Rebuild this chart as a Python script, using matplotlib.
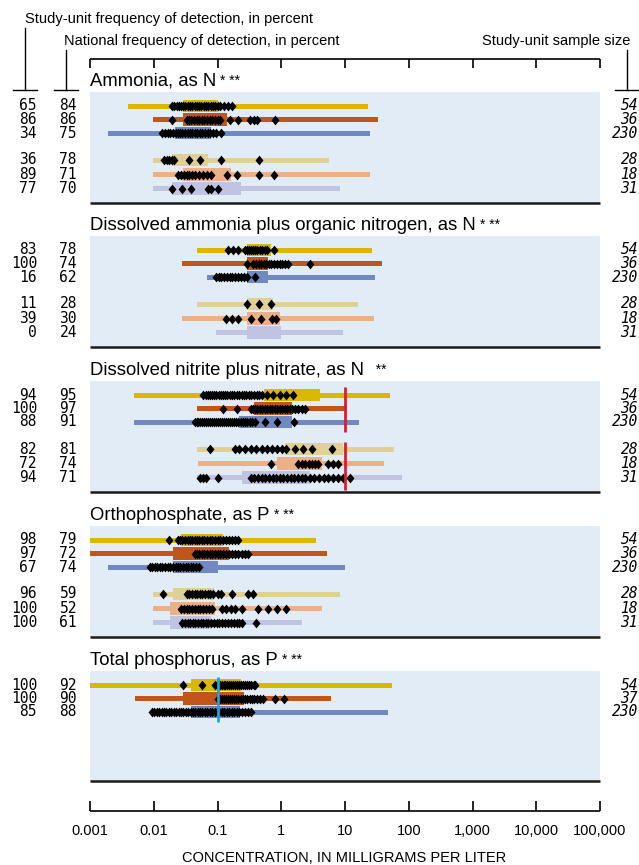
import matplotlib
matplotlib.use("Agg")
import matplotlib.pyplot as plt

W, H = 639, 865

decades = [0.001, 0.01, 0.1, 1, 10, 100, 1000, 10000, 100000]
decade_labels = ["0.001", "0.01", "0.1", "1", "10", "100", "1,000", "10,000", "100,000"]

titles = ["Ammonia, as N", "Dissolved ammonia plus organic nitrogen, as N",
          "Dissolved nitrite plus nitrate, as N", "Orthophosphate, as P",
          "Total phosphorus, as P"]
stars = ["* **", "* **", "  **", "* **", "* **"]

study_freq = [[65, 86, 34, 36, 89, 77],
              [83, 100, 16, 11, 39, 0],
              [94, 100, 88, 82, 72, 94],
              [98, 97, 67, 96, 100, 100],
              [100, 100, 85]]
national_freq = [[84, 86, 75, 78, 71, 70],
                 [78, 74, 62, 28, 30, 24],
                 [95, 97, 91, 81, 74, 71],
                 [79, 72, 74, 59, 52, 61],
                 [92, 90, 88]]
sample_size = [[54, 36, 230, 28, 18, 31],
               [54, 36, 230, 28, 18, 31],
               [54, 36, 230, 28, 18, 31],
               [54, 36, 230, 28, 18, 31],
               [54, 37, 230]]

# national range (thin bar) and 25th-75th percentile (thick bar), mg/L
whisker_lo = [[0.0039, 0.0097, 0.0019, 0.0097, 0.0097, 0.0097],
              [0.048, 0.028, 0.068, 0.048, 0.028, 0.095],
              [0.0049, 0.048, 0.0049, 0.048, 0.05, 0.048],
              [0.001, 0.001, 0.0019, 0.0098, 0.0098, 0.0098],
              [0.001, 0.005, 0.0095]]
whisker_hi = [[23, 33, 25, 5.6, 25, 8.4],
              [27, 38, 30, 15.8, 28, 9.4],
              [51, 10.9, 16.6, 59, 41, 78],
              [3.5, 5.2, 10, 8.4, 4.3, 2.1],
              [55, 6.0, 47]]
box_lo = [[0.029, 0.029, 0.0215, 0.0196, 0.029, 0.0196],
          [0.29, 0.29, 0.29, 0.29, 0.29, 0.29],
          [0.54, 0.37, 0.22, 1.15, 0.87, 0.245],
          [0.027, 0.0198, 0.0198, 0.0198, 0.018, 0.018],
          [0.039, 0.029, 0.039]]
box_hi = [[0.10, 0.139, 0.08, 0.072, 0.162, 0.23],
          [0.68, 0.63, 0.62, 0.75, 0.97, 1.0],
          [4.1, 1.49, 1.49, 9.4, 4.4, 2.8],
          [0.124, 0.153, 0.1, 0.089, 0.09, 0.078],
          [0.23, 0.26, 0.225]]

# study-unit detections, mg/L
ammonia_pts = [
    [0.019, 0.021, 0.023, 0.025, 0.027, 0.029, 0.031, 0.034, 0.037, 0.04, 0.044,
     0.048, 0.052, 0.056, 0.061, 0.066, 0.072, 0.078, 0.085, 0.092, 0.1, 0.11,
     0.125, 0.145, 0.167],
    [0.0195, 0.033, 0.036, 0.039, 0.043, 0.047, 0.052, 0.057, 0.062, 0.068, 0.075,
     0.083, 0.092, 0.1, 0.11, 0.155, 0.21, 0.32, 0.37, 0.41, 0.81],
    [0.0136, 0.015, 0.0165, 0.018, 0.02, 0.022, 0.024, 0.026, 0.028, 0.031, 0.034,
     0.037, 0.04, 0.044, 0.048, 0.053, 0.058, 0.064, 0.07, 0.077, 0.085, 0.094, 0.114],
    [0.0145, 0.016, 0.0175, 0.019, 0.021, 0.036, 0.054, 0.114, 0.45],
    [0.024, 0.027, 0.03, 0.033, 0.036, 0.04, 0.045, 0.052, 0.06, 0.068, 0.078,
     0.14, 0.2, 0.44, 0.77],
    [0.0195, 0.028, 0.039, 0.07, 0.08, 0.1],
]
organic_pts = [
    [0.148, 0.175, 0.21, 0.27, 0.29, 0.31, 0.33, 0.36, 0.39, 0.42, 0.46, 0.5,
     0.55, 0.6, 0.77],
    [0.29, 0.36, 0.4, 0.44, 0.48, 0.53, 0.58, 0.64, 0.7, 0.77, 0.85, 0.94, 1.04,
     1.15, 1.27, 2.8],
    [0.095, 0.105, 0.115, 0.125, 0.14, 0.155, 0.17, 0.19, 0.21, 0.235, 0.26,
     0.29, 0.385],
    [0.29, 0.44, 0.70],
    [0.134, 0.171, 0.212, 0.33, 0.48, 0.71, 0.82],
    [],
]
nitrate_pts = [
    [0.06, 0.065, 0.07, 0.076, 0.082, 0.089, 0.096, 0.104, 0.113, 0.122, 0.132,
     0.143, 0.155, 0.168, 0.182, 0.2, 0.22, 0.24, 0.26, 0.28, 0.31, 0.34, 0.37,
     0.41, 0.45, 0.49, 0.6, 0.75, 0.95, 1.2, 1.55],
    [0.12, 0.2, 0.33, 0.36, 0.39, 0.42, 0.46, 0.5, 0.55, 0.6, 0.66, 0.72, 0.79,
     0.86, 0.94, 1.03, 1.13, 1.24, 1.36, 1.5, 1.65, 1.85, 2.1, 2.4],
    [0.044, 0.047, 0.05, 0.054, 0.058, 0.062, 0.066, 0.071, 0.076, 0.082, 0.088,
     0.094, 0.1, 0.108, 0.116, 0.125, 0.134, 0.144, 0.155, 0.167, 0.18, 0.195,
     0.21, 0.23, 0.25, 0.27, 0.29, 0.32, 0.35, 0.385, 0.56, 0.87, 1.6],
    [0.077, 0.19, 0.22, 0.27, 0.33, 0.4, 0.49, 0.59, 0.71, 0.85, 1.02, 1.2, 1.64,
     2.2, 3.0, 6.2],
    [0.68, 1.85, 2.1, 2.4, 2.7, 3.0, 3.4, 3.8, 5.5, 6.6, 7.9],
    [0.053, 0.06, 0.067, 0.1, 0.34, 0.38, 0.43, 0.49, 0.56, 0.64, 0.73, 0.83,
     0.95, 1.08, 1.23, 1.4, 1.6, 1.85, 2.1, 2.4, 2.8, 3.3, 3.9, 4.6, 5.5, 6.5,
     7.8, 9.3, 12],
]
ortho_pts = [
    [0.0173, 0.024, 0.026, 0.028, 0.031, 0.034, 0.037, 0.04, 0.044, 0.048, 0.052,
     0.057, 0.062, 0.068, 0.075, 0.082, 0.09, 0.1, 0.11, 0.12, 0.135, 0.15, 0.17,
     0.19, 0.21],
    [0.044, 0.048, 0.052, 0.057, 0.062, 0.068, 0.075, 0.082, 0.09, 0.1, 0.11,
     0.12, 0.135, 0.15, 0.17, 0.19, 0.21, 0.24, 0.27, 0.3],
    [0.0087, 0.0095, 0.0104, 0.0114, 0.0125, 0.0137, 0.015, 0.0165, 0.018, 0.02,
     0.022, 0.024, 0.026, 0.029, 0.032, 0.035, 0.038, 0.042, 0.046, 0.051],
    [0.0138, 0.033, 0.036, 0.04, 0.044, 0.048, 0.053, 0.058, 0.064, 0.07, 0.077,
     0.085, 0.1, 0.115, 0.17, 0.3, 0.36],
    [0.027, 0.03, 0.033, 0.036, 0.04, 0.044, 0.049, 0.054, 0.06, 0.067, 0.074,
     0.081, 0.116, 0.135, 0.16, 0.19, 0.24, 0.43, 0.61, 0.87, 1.17],
    [0.028, 0.031, 0.034, 0.037, 0.041, 0.045, 0.05, 0.055, 0.06, 0.066, 0.072,
     0.08, 0.088, 0.097, 0.107, 0.118, 0.13, 0.145, 0.16, 0.18, 0.2, 0.22, 0.24,
     0.4],
]
phos_pts = [
    [0.029, 0.058, 0.093, 0.103, 0.11, 0.117, 0.125, 0.133, 0.142, 0.152, 0.162,
     0.173, 0.185, 0.2, 0.215, 0.23, 0.25, 0.27, 0.29, 0.31, 0.34, 0.37, 0.39],
    [0.103, 0.11, 0.118, 0.127, 0.136, 0.146, 0.157, 0.169, 0.182, 0.196, 0.21,
     0.23, 0.25, 0.27, 0.29, 0.32, 0.35, 0.38, 0.42, 0.47, 0.52, 0.8, 1.1],
    [0.0093, 0.0102, 0.0112, 0.0122, 0.0133, 0.0145, 0.0158, 0.0172, 0.0188,
     0.0205, 0.0224, 0.0245, 0.0267, 0.029, 0.032, 0.035, 0.038, 0.041, 0.045,
     0.049, 0.053, 0.058, 0.063, 0.069, 0.075, 0.082, 0.09, 0.098, 0.107, 0.117,
     0.128, 0.14, 0.153, 0.167, 0.18, 0.2, 0.22, 0.24, 0.27, 0.3, 0.33],
]
points = [ammonia_pts, organic_pts, nitrate_pts, ortho_pts, phos_pts]

# guideline values: (value, color) or None
guides = [None, None, (10, "#e2182b"), None, (0.1, "#1fa3e0")]

colors = ["#dab800", "#c0561a", "#7288c0", "#e0d096", "#ecb088", "#c0c4e2"]
bg = "#e2ecf7"

panel_tops = [92, 236, 381, 526, 671]
row_offsets = [14, 27.5, 41, 68, 82.5, 96.5]
panel_height = 111

# slightly tall diamond
diamond = [(0, 1), (0.82, 0), (0, -1), (-0.82, 0), (0, 1)]

fig = plt.figure(figsize=(W / 100, H / 100), dpi=100)
canvas = fig.add_axes([0, 0, 1, 1])
canvas.set_xlim(0, W)
canvas.set_ylim(H, 0)
canvas.axis("off")

ax = fig.add_axes([90 / W, 0, 510 / W, 1])
ax.set_xscale("log")
ax.axis("off")

sans = "Liberation Sans"
mono = "DejaVu Sans Mono"

# header
canvas.text(25, 19, "Study-unit frequency of detection, in percent", family=sans,
            fontsize=10.5, va="center", ha="left")
canvas.text(64, 41, "National frequency of detection, in percent", family=sans,
            fontsize=10.5, va="center", ha="left")
canvas.text(630, 41, "Study-unit sample size", family=sans,
            fontsize=10.5, va="center", ha="right")
for xv, y0 in [(25, 28), (66, 50), (627, 50)]:
    canvas.plot([xv, xv], [y0, 90], color="k", lw=1)
    canvas.plot([xv - 12, xv + 12], [90, 90], color="k", lw=1)

# top ruler
ax.hlines(59, decades[0], decades[-1], color="k", lw=1.2, clip_on=False)
ax.vlines(decades, 59, 68, color="k", lw=1.2, clip_on=False)

for p in range(5):
    top = panel_tops[p]
    bottom = top + panel_height if p < 4 else top + 110
    ax.axhspan(top, bottom, color=bg, lw=0, zorder=0)
    ax.hlines(bottom, decades[0], decades[-1], color="#1a1a1a", lw=1.8, zorder=1,
              clip_on=False)
    t = ax.text(decades[0], top - 2, titles[p], family=sans, fontsize=13.3,
                ha="left", va="bottom")
    ax.annotate(stars[p], xy=(1, 1), xycoords=t, xytext=(3, -1),
                textcoords="offset points", family=sans, fontsize=10,
                ha="left", va="top")
    nrows = len(study_freq[p])
    ys = [top + row_offsets[i] for i in range(nrows)]
    for i in range(nrows):
        y = ys[i]
        c = colors[i]
        ax.barh(y, whisker_hi[p][i] - whisker_lo[p][i], left=whisker_lo[p][i],
                height=5, color=c, lw=0, zorder=2)
        ax.barh(y, box_hi[p][i] - box_lo[p][i], left=box_lo[p][i],
                height=12.5, color=c, lw=0, zorder=2)
        pts = points[p][i]
        if pts:
            ax.plot(pts, [y] * len(pts), marker=diamond, ls="none", ms=7,
                    color="k", mew=0, zorder=3)
        canvas.text(37, y, str(study_freq[p][i]), family=mono, fontsize=10.5,
                    ha="right", va="center")
        canvas.text(77, y, str(national_freq[p][i]), family=mono, fontsize=10.5,
                    ha="right", va="center")
        canvas.text(638, y, str(sample_size[p][i]), family=mono, fontsize=10.5,
                    ha="right", va="center", style="italic")
    g = guides[p]
    if g is not None:
        ax.vlines(g[0], ys[0] - 8, ys[min(2, nrows - 1)] + 10, color=g[1], lw=2,
                  zorder=4)
        if nrows > 3:
            ax.vlines(g[0], ys[3] - 7, ys[5] + 12, color=g[1], lw=2, zorder=4)

# bottom ruler
ax.hlines(811, decades[0], decades[-1], color="k", lw=1.2, clip_on=False)
ax.vlines(decades, 801, 811, color="k", lw=1.2, clip_on=False)
for v, lab in zip(decades, decade_labels):
    ax.text(v, 831, lab, family=sans, fontsize=10.5, ha="center", va="center")
canvas.text(344, 858, "CONCENTRATION, IN MILLIGRAMS PER LITER", family=sans,
            fontsize=10.5, ha="center", va="center")

ax.set_xlim(decades[0], decades[-1])
ax.set_ylim(H, 0)

fig.savefig("out.png", dpi=100)
